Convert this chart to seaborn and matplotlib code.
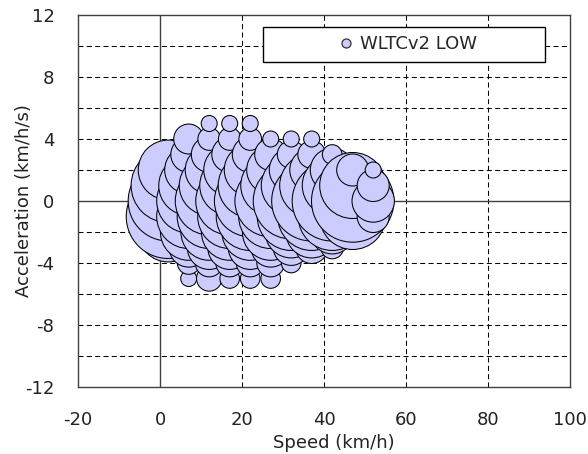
import matplotlib
matplotlib.use("Agg")
import matplotlib.pyplot as plt
from matplotlib.lines import Line2D
from matplotlib.patches import Rectangle
import pandas as pd
import seaborn as sns

# Speed classes (km/h) and acceleration classes (km/h/s)
speed_classes = [2, 7, 12, 17, 22, 27, 32, 37, 42, 47, 52]
accel_classes = [-5, -4, -3, -2, -1, 0, 1, 2, 3, 4, 5]

# Occurrence counts per speed class, from -5 up to +5 km/h/s (0 = none)
counts_v02 = [0, 0, 6, 28, 55, 50, 43, 28, 0, 0, 0]
counts_v07 = [2, 4, 12, 25, 32, 32, 28, 18, 10, 7, 0]
counts_v12 = [5, 6, 15, 25, 32, 36, 28, 18, 10, 4, 2]
counts_v17 = [3, 6, 15, 25, 32, 36, 28, 21, 10, 4, 2]
counts_v22 = [3, 6, 15, 25, 36, 40, 32, 21, 10, 4, 2]
counts_v27 = [3, 6, 12, 25, 32, 40, 28, 18, 8, 2, 0]
counts_v32 = [0, 3, 10, 21, 36, 45, 28, 15, 6, 2, 0]
counts_v37 = [0, 0, 8, 21, 36, 50, 32, 15, 6, 2, 0]
counts_v42 = [0, 0, 4, 15, 36, 50, 28, 15, 3, 0, 0]
counts_v47 = [0, 0, 0, 8, 34, 53, 34, 8, 0, 0, 0]
counts_v52 = [0, 0, 0, 0, 8, 14, 8, 2, 0, 0, 0]

series_name = "WLTCv2 LOW"
x_label = "Speed (km/h)"
y_label = "Acceleration (km/h/s)"

count_table = [counts_v02, counts_v07, counts_v12, counts_v17, counts_v22,
               counts_v27, counts_v32, counts_v37, counts_v42, counts_v47,
               counts_v52]

rows = []
for v, col in zip(speed_classes, count_table):
    for a, n in zip(accel_classes, col):
        if n > 0:
            rows.append({"speed": v, "accel": a, "count": n})
df = pd.DataFrame(rows)

sns.set_style("white")
plt.rcParams["font.family"] = ["DejaVu Sans"]
plt.rcParams["font.size"] = 13
plt.rcParams["axes.unicode_minus"] = False

fill = "#CCCCFF"
ink = "#222222"
frame = "#404040"

fig = plt.figure(figsize=(5.88, 4.54), dpi=100)
ax = fig.add_axes([78 / 588, 1 - 387 / 454, 492 / 588, 372 / 454])

# bubble area proportional to count
area_per_count = 66.4
cmax = df["count"].max()
sns.scatterplot(data=df, x="speed", y="accel", size="count",
                sizes=(0, area_per_count * cmax), size_norm=(0, cmax),
                color=fill, edgecolor="black", linewidth=0.75,
                legend=False, ax=ax, zorder=3)

ax.set_xlim(-20, 100)
ax.set_ylim(-12, 12)
ax.set_xticks(range(-20, 101, 20))
ax.set_yticks(range(-12, 13, 4))

dash = (0, (4.8, 3.2))
for gx in [20, 40, 60, 80]:
    ax.axvline(gx, color="black", lw=0.75, ls=dash, zorder=1)
for gy in [-10, -8, -6, -4, -2, 2, 4, 6, 8, 10]:
    ax.axhline(gy, color="black", lw=0.75, ls=dash, zorder=1)
ax.axvline(0, color=frame, lw=1.0, zorder=1.5)
ax.axhline(0, color=frame, lw=1.0, zorder=1.5)

for s in ax.spines.values():
    s.set_color(frame)
    s.set_linewidth(1.0)
    s.set_visible(True)

ax.tick_params(axis="both", length=0, labelsize=13, colors=ink)
ax.tick_params(axis="y", pad=17)
ax.tick_params(axis="x", pad=17)

ax.set_xlabel(x_label, fontsize=13, color=ink)
ax.set_ylabel(y_label, fontsize=13, color=ink)
ax.xaxis.set_label_coords(0.52, -0.125)
ax.yaxis.set_label_coords(-0.092, 0.5)

# legend box
box = Rectangle((0.376, 0.8737), 0.573, 0.094, transform=ax.transAxes,
                facecolor="white", edgecolor="black", lw=1.0, zorder=5)
ax.add_patch(box)
handle = Line2D([], [], marker="o", ls="none", markersize=6.5,
                markerfacecolor=fill, markeredgecolor="#333333",
                markeredgewidth=0.9)
leg = ax.legend([handle], [series_name], loc="center",
                bbox_to_anchor=(0.672, 0.9207), frameon=False,
                handlelength=0.6, handletextpad=0.45, fontsize=13,
                borderpad=0, borderaxespad=0)
leg.set_zorder(6)

fig.savefig("out.png", dpi=100, facecolor="white")
